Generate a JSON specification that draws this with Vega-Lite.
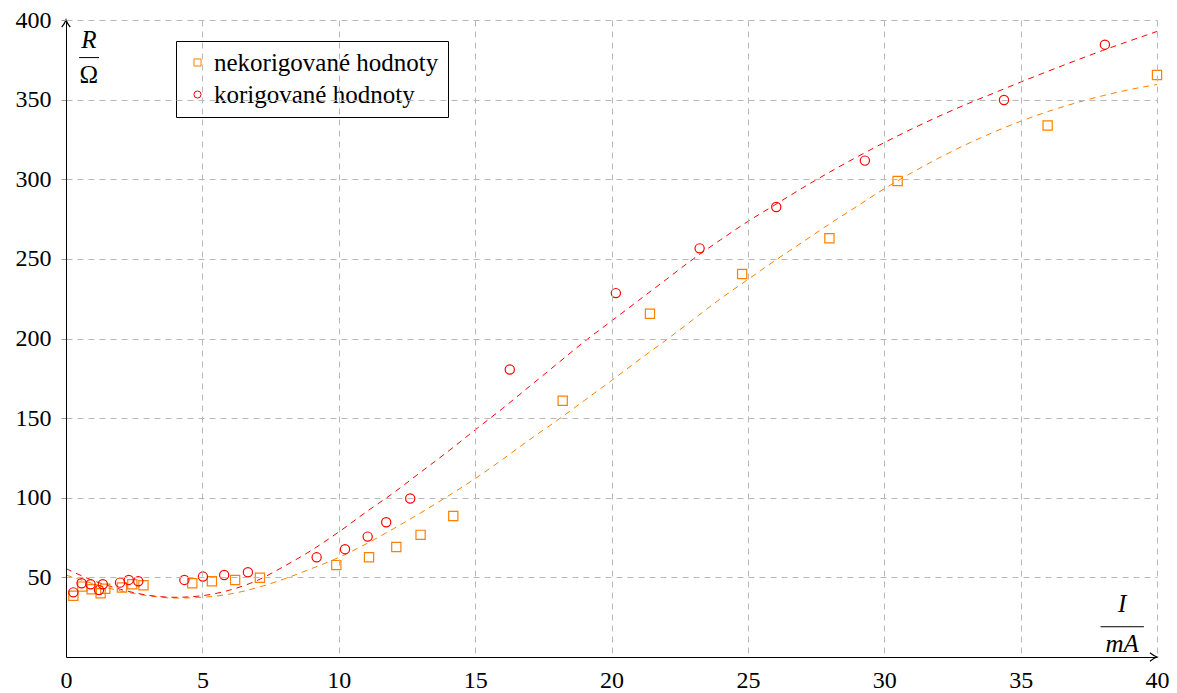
{
  "$schema": "https://vega.github.io/schema/vega-lite/v6.json",
  "width": 1091,
  "height": 637,
  "autosize": {"type": "none"},
  "padding": {"left": 66, "top": 20, "right": 20, "bottom": 36},
  "background": "white",
  "config": {"view": {"stroke": null}, "font": "Liberation Serif"},
  "datasets": {
    "meas": [
      {"I": 0.27, "R": 38.5, "s": "nekorigované hodnoty"},
      {"I": 0.6, "R": 44.2, "s": "nekorigované hodnoty"},
      {"I": 0.94, "R": 42.5, "s": "nekorigované hodnoty"},
      {"I": 1.27, "R": 40.0, "s": "nekorigované hodnoty"},
      {"I": 1.44, "R": 42.9, "s": "nekorigované hodnoty"},
      {"I": 2.05, "R": 43.6, "s": "nekorigované hodnoty"},
      {"I": 2.43, "R": 45.7, "s": "nekorigované hodnoty"},
      {"I": 2.84, "R": 45.1, "s": "nekorigované hodnoty"},
      {"I": 4.63, "R": 46.3, "s": "nekorigované hodnoty"},
      {"I": 5.35, "R": 47.6, "s": "nekorigované hodnoty"},
      {"I": 6.2, "R": 48.4, "s": "nekorigované hodnoty"},
      {"I": 7.11, "R": 49.8, "s": "nekorigované hodnoty"},
      {"I": 9.91, "R": 57.7, "s": "nekorigované hodnoty"},
      {"I": 11.11, "R": 62.6, "s": "nekorigované hodnoty"},
      {"I": 12.11, "R": 69.1, "s": "nekorigované hodnoty"},
      {"I": 13.0, "R": 76.7, "s": "nekorigované hodnoty"},
      {"I": 14.2, "R": 88.5, "s": "nekorigované hodnoty"},
      {"I": 18.21, "R": 160.9, "s": "nekorigované hodnoty"},
      {"I": 21.41, "R": 215.5, "s": "nekorigované hodnoty"},
      {"I": 24.79, "R": 240.5, "s": "nekorigované hodnoty"},
      {"I": 27.99, "R": 263.0, "s": "nekorigované hodnoty"},
      {"I": 30.49, "R": 298.9, "s": "nekorigované hodnoty"},
      {"I": 35.99, "R": 333.8, "s": "nekorigované hodnoty"},
      {"I": 40.0, "R": 365.5, "s": "nekorigované hodnoty"},
      {"I": 0.27, "R": 40.6, "s": "korigované hodnoty"},
      {"I": 0.57, "R": 46.3, "s": "korigované hodnoty"},
      {"I": 0.9, "R": 45.7, "s": "korigované hodnoty"},
      {"I": 1.21, "R": 42.0, "s": "korigované hodnoty"},
      {"I": 1.35, "R": 45.7, "s": "korigované hodnoty"},
      {"I": 1.98, "R": 46.7, "s": "korigované hodnoty"},
      {"I": 2.3, "R": 48.4, "s": "korigované hodnoty"},
      {"I": 2.65, "R": 47.6, "s": "korigované hodnoty"},
      {"I": 4.34, "R": 48.4, "s": "korigované hodnoty"},
      {"I": 5.02, "R": 50.5, "s": "korigované hodnoty"},
      {"I": 5.8, "R": 51.5, "s": "korigované hodnoty"},
      {"I": 6.67, "R": 53.2, "s": "korigované hodnoty"},
      {"I": 9.19, "R": 62.6, "s": "korigované hodnoty"},
      {"I": 10.23, "R": 67.7, "s": "korigované hodnoty"},
      {"I": 11.06, "R": 75.6, "s": "korigované hodnoty"},
      {"I": 11.74, "R": 84.6, "s": "korigované hodnoty"},
      {"I": 12.62, "R": 99.5, "s": "korigované hodnoty"},
      {"I": 16.27, "R": 180.5, "s": "korigované hodnoty"},
      {"I": 20.16, "R": 228.5, "s": "korigované hodnoty"},
      {"I": 23.23, "R": 256.6, "s": "korigované hodnoty"},
      {"I": 26.04, "R": 282.6, "s": "korigované hodnoty"},
      {"I": 29.29, "R": 311.7, "s": "korigované hodnoty"},
      {"I": 34.39, "R": 349.8, "s": "korigované hodnoty"},
      {"I": 38.09, "R": 384.5, "s": "korigované hodnoty"}
    ],
    "fitRed": [
      {"I": 0, "R": 55.5}, {"I": 1, "R": 48}, {"I": 2, "R": 42.5}, {"I": 3, "R": 38.8},
      {"I": 4, "R": 37.5}, {"I": 5, "R": 38.5}, {"I": 6, "R": 42}, {"I": 7, "R": 48},
      {"I": 8, "R": 57}, {"I": 9, "R": 67}, {"I": 10, "R": 78.5}, {"I": 11, "R": 91},
      {"I": 12, "R": 103}, {"I": 13, "R": 116}, {"I": 14, "R": 129}, {"I": 15, "R": 142.6},
      {"I": 16, "R": 156}, {"I": 17, "R": 170}, {"I": 18, "R": 184}, {"I": 19, "R": 198},
      {"I": 20, "R": 211}, {"I": 21, "R": 224}, {"I": 22, "R": 237}, {"I": 23, "R": 250},
      {"I": 24, "R": 262}, {"I": 25, "R": 273.5}, {"I": 26, "R": 284}, {"I": 27, "R": 294.5},
      {"I": 28, "R": 304.5}, {"I": 29, "R": 314}, {"I": 30, "R": 323}, {"I": 31, "R": 331.5},
      {"I": 32, "R": 339.5}, {"I": 33, "R": 347}, {"I": 34, "R": 354}, {"I": 35, "R": 361},
      {"I": 36, "R": 367.8}, {"I": 37, "R": 374.4}, {"I": 38, "R": 380.8}, {"I": 39, "R": 386.9},
      {"I": 40, "R": 392.8}
    ],
    "fitOrange": [
      {"I": 0, "R": 51.5}, {"I": 1, "R": 46}, {"I": 2, "R": 41.5}, {"I": 3, "R": 38.5},
      {"I": 4, "R": 37}, {"I": 5, "R": 37.5}, {"I": 6, "R": 39.5}, {"I": 7, "R": 43.5},
      {"I": 8, "R": 49}, {"I": 9, "R": 55.5}, {"I": 10, "R": 62.5}, {"I": 11, "R": 71},
      {"I": 12, "R": 80.5}, {"I": 13, "R": 90.5}, {"I": 14, "R": 101}, {"I": 15, "R": 112},
      {"I": 16, "R": 124}, {"I": 17, "R": 136.5}, {"I": 18, "R": 148.5}, {"I": 19, "R": 161},
      {"I": 20, "R": 173.6}, {"I": 21, "R": 186.5}, {"I": 22, "R": 199}, {"I": 23, "R": 212},
      {"I": 24, "R": 225}, {"I": 25, "R": 237}, {"I": 26, "R": 249}, {"I": 27, "R": 260.5},
      {"I": 28, "R": 272}, {"I": 29, "R": 283}, {"I": 30, "R": 294}, {"I": 31, "R": 304},
      {"I": 32, "R": 313.3}, {"I": 33, "R": 321.8}, {"I": 34, "R": 329.5}, {"I": 35, "R": 336.4},
      {"I": 36, "R": 342.5}, {"I": 37, "R": 347.8}, {"I": 38, "R": 352.4}, {"I": 39, "R": 356.3},
      {"I": 40, "R": 359.5}
    ],
    "arrows": [
      {"I": 40, "R": 0, "a": 0},
      {"I": 0, "R": 400, "a": -90}
    ],
    "labels": [
      {"I": 0.84, "R": 382.7, "t": "R", "k": "it"},
      {"I": 0.84, "R": 360.5, "t": "Ω", "k": "rm"},
      {"I": 38.72, "R": 28.5, "t": "I", "k": "it"},
      {"I": 38.72, "R": 3.3, "t": "mA", "k": "it"}
    ],
    "fracs": [
      {"I": 0.48, "I2": 1.21, "R": 376.4},
      {"I": 37.93, "I2": 39.52, "R": 19.0}
    ]
  },
  "layer": [
    {
      "data": {"name": "fitOrange"},
      "mark": {"type": "line", "color": "#ff8000", "strokeWidth": 1, "strokeDash": [6, 5], "interpolate": "monotone", "clip": true},
      "encoding": {
        "x": {"field": "I", "type": "quantitative", "scale": {"domain": [0, 40], "nice": false},
          "axis": {"values": [0, 5, 10, 15, 20, 25, 30, 35, 40], "grid": true, "gridDash": [6, 5], "gridColor": "#b8b8b8", "gridWidth": 1,
            "domainColor": "black", "domainWidth": 1, "ticks": false, "labelPadding": 11, "labelFontSize": 24, "labelColor": "black",
            "labelFont": "Liberation Serif", "title": null, "zindex": 1, "labelFlush": false}},
        "y": {"field": "R", "type": "quantitative", "scale": {"domain": [0, 400], "nice": false},
          "axis": {"values": [50, 100, 150, 200, 250, 300, 350, 400], "grid": true, "gridDash": [6, 5], "gridColor": "#b8b8b8", "gridWidth": 1,
            "domainColor": "black", "domainWidth": 1, "ticks": true, "tickSize": 5, "tickColor": "#999999", "labelPadding": 10, "labelFontSize": 24, "labelColor": "black",
            "labelFont": "Liberation Serif", "title": null, "zindex": 1, "labelFlush": false}}
      }
    },
    {
      "data": {"name": "fitRed"},
      "mark": {"type": "line", "color": "#ff0000", "strokeWidth": 1, "strokeDash": [6, 5], "interpolate": "monotone", "clip": true},
      "encoding": {
        "x": {"field": "I", "type": "quantitative"},
        "y": {"field": "R", "type": "quantitative"}
      }
    },
    {
      "data": {"name": "meas"},
      "mark": {"type": "point", "filled": false, "size": 85, "strokeWidth": 1.2, "opacity": 1},
      "encoding": {
        "x": {"field": "I", "type": "quantitative"},
        "y": {"field": "R", "type": "quantitative"},
        "color": {"field": "s", "type": "nominal",
          "scale": {"domain": ["nekorigované hodnoty", "korigované hodnoty"], "range": ["#ff8000", "#ff0000"]},
          "legend": {"orient": "none", "legendX": 110, "legendY": 21, "title": null, "fillColor": "white", "strokeColor": "black",
            "padding": 9, "labelFontSize": 25, "labelFont": "Liberation Serif", "labelColor": "black", "labelLimit": 500,
            "symbolSize": 50, "symbolStrokeWidth": 1, "symbolOpacity": 1, "rowPadding": 6, "labelOffset": 4, "symbolOffset": 0, "cornerRadius": 0}},
        "shape": {"field": "s", "type": "nominal",
          "scale": {"domain": ["nekorigované hodnoty", "korigované hodnoty"], "range": ["square", "circle"]}}
      }
    },
    {
      "data": {"name": "arrows"},
      "mark": {"type": "point", "shape": "M -1.5 -0.9 Q -0.6 -0.2 0 0 Q -0.6 0.2 -1.5 0.9", "size": 90, "filled": false, "stroke": "black", "strokeWidth": 1.2, "clip": false, "opacity": 1},
      "encoding": {
        "x": {"field": "I", "type": "quantitative"},
        "y": {"field": "R", "type": "quantitative"},
        "angle": {"field": "a", "type": "quantitative", "scale": null}
      }
    },
    {
      "data": {"name": "fracs"},
      "mark": {"type": "rule", "color": "black", "strokeWidth": 1},
      "encoding": {
        "x": {"field": "I", "type": "quantitative"},
        "x2": {"field": "I2"},
        "y": {"field": "R", "type": "quantitative"}
      }
    },
    {
      "data": {"name": "labels"},
      "transform": [{"filter": "datum.k == 'it'"}],
      "mark": {"type": "text", "font": "Liberation Serif", "fontStyle": "italic", "fontSize": 25, "align": "center", "baseline": "alphabetic", "color": "black"},
      "encoding": {
        "x": {"field": "I", "type": "quantitative"},
        "y": {"field": "R", "type": "quantitative"},
        "text": {"field": "t"}
      }
    },
    {
      "data": {"name": "labels"},
      "transform": [{"filter": "datum.k == 'rm'"}],
      "mark": {"type": "text", "font": "Liberation Serif", "fontSize": 25, "align": "center", "baseline": "alphabetic", "color": "black"},
      "encoding": {
        "x": {"field": "I", "type": "quantitative"},
        "y": {"field": "R", "type": "quantitative"},
        "text": {"field": "t"}
      }
    }
  ]
}
